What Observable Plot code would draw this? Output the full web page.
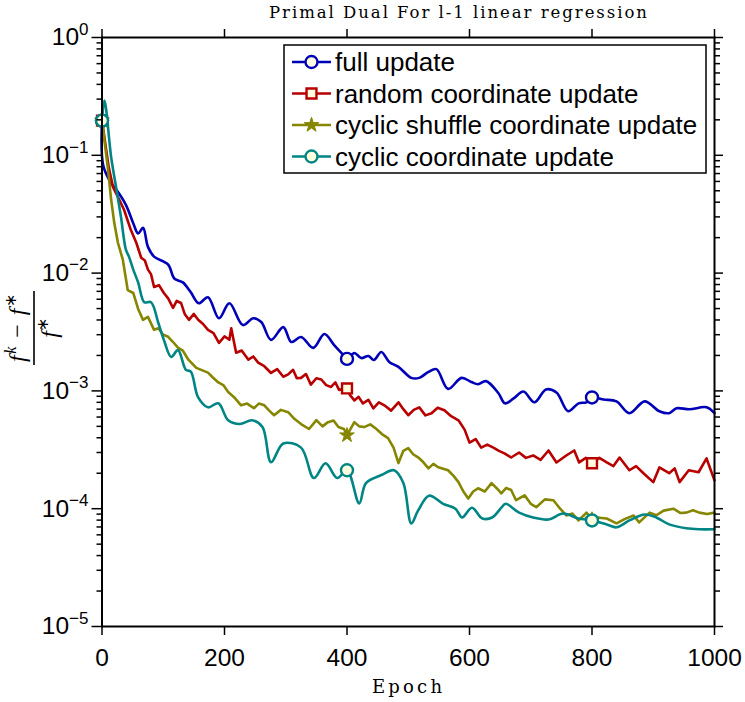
<!DOCTYPE html>
<html><head><meta charset="utf-8">
<script src="https://cdn.jsdelivr.net/npm/d3@7"></script>
<script src="https://cdn.jsdelivr.net/npm/@observablehq/plot@0.6"></script>
<style>
body{margin:0;background:#fff}
#chart{position:relative;width:745px;height:702px}
</style>
</head><body><div id="chart"></div>
<script>
// ---------- data ----------
const seriesNames = ["full update","random coordinate update","cyclic shuffle coordinate update","cyclic coordinate update"];
const xTicks = [0,200,400,600,800,1000];
const yMajor = [1e-5,1e-4,1e-3,1e-2,1e-1,1];
const yExponents = ["−5","−4","−3","−2","−1","0"];
const markerEpochs = [0,400,800];
const titleText = "Primal Dual For l-1 linear regression";
const xLabel = "Epoch";

const fullEpoch = [0,2,15,23,39,51,59,67,75,85,108,118,132,145,158,173,191,208,230,247,260,276,296,309,325,345,363,379,394,400,412,423,435,444,456,469,484,505,518,533,546,565,587,603,614,627,647,658,672,688,706,725,742,761,778,791,800,819,840,861,886,910,926,938,959,987,1000];
const fullValue = [0.197,0.082,0.058,0.0515,0.038,0.0265,0.0217,0.0242,0.0167,0.0138,0.0118,0.0090,0.00834,0.00687,0.00555,0.00624,0.00414,0.00555,0.00362,0.00414,0.00384,0.00271,0.00348,0.0026,0.00287,0.00232,0.00304,0.00245,0.00202,0.00187,0.0021,0.0019,0.00198,0.00183,0.00214,0.00176,0.0016,0.00129,0.00129,0.00145,0.00153,0.00104,0.00129,0.00119,0.00114,0.00121,0.00096,0.000784,0.000863,0.000987,0.0008,0.00103,0.000968,0.000672,0.000784,0.0008,0.00088,0.000846,0.000815,0.000647,0.000815,0.000672,0.000647,0.000712,0.000698,0.000726,0.000647];

const randomEpoch = [0,11,18,26,36,47,56,64,70,75,80,85,93,101,108,116,122,129,135,142,150,157,165,173,182,191,200,208,211,219,228,239,247,255,265,276,286,296,304,312,318,325,333,341,350,358,366,374,381,387,400,405,412,419,426,435,443,452,461,472,484,492,500,509,518,528,538,548,559,570,582,592,600,610,619,629,639,648,657,668,681,692,704,716,729,742,758,771,779,790,800,812,824,835,845,861,872,884,900,910,926,935,943,958,974,987,1000];
const randomValue = [0.197,0.079,0.0537,0.0443,0.0345,0.0233,0.0181,0.0135,0.0128,0.0107,0.0098,0.00762,0.0079,0.00678,0.0061,0.00507,0.0058,0.00558,0.0045,0.00401,0.0045,0.00401,0.0037,0.0033,0.0031,0.00256,0.0029,0.00272,0.0034,0.00211,0.0022,0.00184,0.00196,0.00174,0.00162,0.00142,0.00153,0.00132,0.00138,0.00151,0.00128,0.00129,0.00139,0.00113,0.00128,0.00125,0.00112,0.00108,0.00118,0.00102,0.00105,0.00092,0.00083,0.00089,0.000783,0.00084,0.000712,0.0008,0.000754,0.00068,0.0008,0.0007,0.000622,0.00069,0.000725,0.00062,0.000646,0.00072,0.000684,0.00061,0.000563,0.000469,0.000364,0.00039,0.00033,0.00035,0.00033,0.00031,0.000295,0.000272,0.0003,0.00027,0.000283,0.00026,0.000312,0.000247,0.000283,0.000312,0.000247,0.00027,0.000243,0.00027,0.000247,0.00023,0.000272,0.000212,0.00023,0.0002,0.000168,0.000224,0.0002,0.00022,0.000168,0.000212,0.000204,0.000267,0.000174];

const shuffleEpoch = [0,10,15,20,26,34,42,51,59,67,75,85,92,100,108,116,124,132,141,154,163,173,181,190,198,206,216,227,237,248,256,265,273,281,292,304,314,325,338,350,360,369,378,386,395,400,412,420,428,438,448,457,467,476,484,492,500,508,516,524,533,541,549,565,574,582,590,598,606,614,625,636,644,652,660,668,676,690,700,709,723,737,748,758,768,778,791,800,807,824,840,854,868,877,894,905,917,933,944,954,965,975,988,1000];
const shuffleValue = [0.197,0.0746,0.0417,0.0267,0.0181,0.013,0.00718,0.00678,0.00496,0.00401,0.00425,0.0033,0.0034,0.003,0.00288,0.0026,0.00233,0.0022,0.00184,0.00157,0.0015,0.00143,0.0013,0.00118,0.00112,0.00098,0.00088,0.000755,0.00078,0.000712,0.00078,0.000755,0.00068,0.000622,0.00069,0.000659,0.00058,0.000523,0.000475,0.000564,0.0005,0.000543,0.00056,0.000493,0.000475,0.00042,0.000543,0.0005,0.000493,0.00052,0.000475,0.00043,0.000398,0.00033,0.000244,0.00031,0.000327,0.00029,0.000273,0.00025,0.00022,0.00024,0.000225,0.000212,0.00019,0.000168,0.00014,0.000122,0.00014,0.000149,0.00014,0.000165,0.00015,0.000135,0.00015,0.000144,0.000118,0.00013,0.00011,0.000103,0.00012,0.000118,0.0001,0.0000876,0.000091,0.0000795,0.0000926,0.000081,0.0000842,0.0000826,0.000075,0.000082,0.0000876,0.0000765,0.0000926,0.000088,0.0000963,0.0001,0.000092,0.0000926,0.000097,0.0000926,0.00009,0.0000926];

const cyclicEpoch = [0,4,15,23,31,39,44,51,59,69,80,92,101,113,124,137,145,157,173,190,206,225,245,262,276,296,325,346,365,384,400,420,431,456,477,492,505,516,534,557,577,588,604,621,637,652,659,681,704,729,753,778,800,824,840,861,886,905,926,954,975,1000];
const cyclicValue = [0.197,0.292,0.0958,0.0537,0.0299,0.0158,0.0138,0.0107,0.00834,0.00566,0.00566,0.00377,0.00271,0.00194,0.00222,0.00151,0.00146,0.00088,0.000725,0.000784,0.000563,0.000523,0.000563,0.000493,0.000248,0.000358,0.00033,0.000182,0.000243,0.000182,0.000212,0.000111,0.000165,0.000193,0.000212,0.000165,0.000075,0.0000963,0.000129,0.00011,0.0001,0.0000842,0.000102,0.0000826,0.0000842,0.000102,0.00011,0.0000926,0.0000842,0.000081,0.000091,0.0000826,0.0000795,0.0000736,0.0000695,0.0000795,0.0000893,0.0000842,0.0000736,0.0000682,0.0000669,0.0000669];

// ---------- styling ----------
const colors = ["#0000b8","#b80000","#868600","#008585"];
const symbols = ["circle","square","star","circle"];
const curves = ["catmull-rom","linear","linear","catmull-rom"];
const markerFill = "#ffffe0";
const lineW = 2.6;

const series = [
  {epochs: fullEpoch, values: fullValue},
  {epochs: randomEpoch, values: randomValue},
  {epochs: shuffleEpoch, values: shuffleValue},
  {epochs: cyclicEpoch, values: cyclicValue}
].map((s, i) => ({...s, name: seriesNames[i], color: colors[i], symbol: symbols[i], curve: curves[i]}));

const yMinor = yMajor.slice(0, -1).flatMap(d => [2,3,4,5,6,7,8,9].map(k => k * d));
const markerR = sym => sym === "star" ? 4.6 : (sym === "square" ? 5.6 : 6);

const seriesMarks = series.flatMap(s => {
  const rows = s.epochs.map((e, i) => ({epoch: e, value: s.values[i]}));
  const mk = rows.filter(r => markerEpochs.includes(r.epoch));
  const isStar = s.symbol === "star";
  return [
    Plot.line(rows, {x: "epoch", y: "value", stroke: s.color, strokeWidth: lineW, curve: s.curve}),
    Plot.dot(mk, {x: "epoch", y: "value", symbol: s.symbol, r: markerR(s.symbol),
      fill: isStar ? s.color : markerFill, stroke: s.color, strokeWidth: isStar ? 1 : 2.4})
  ];
});

const tickFont = 24.5;
const chart = Plot.plot({
  width: 745,
  height: 702,
  marginLeft: 101.5,
  marginRight: 31,
  marginTop: 37,
  marginBottom: 76,
  style: {fontFamily: "'Liberation Sans', Arial, sans-serif", fontSize: tickFont + "px", color: "black", background: "white", overflow: "visible"},
  x: {domain: [0, 1000]},
  y: {type: "log", domain: [1e-5, 1]},
  marks: [
    ...seriesMarks,
    Plot.axisX({anchor: "bottom", ticks: xTicks, tickSize: 9, tickPadding: 13, label: null, strokeWidth: 1.5, fontSize: tickFont, tickFormat: d => String(d)}),
    Plot.axisX({anchor: "top", ticks: xTicks, tickSize: 9, tickFormat: () => "", label: null, strokeWidth: 1.5}),
    Plot.axisY({anchor: "left", ticks: yMajor, tickSize: 10, tickPadding: 3.5, label: null, strokeWidth: 1.5, fontSize: tickFont,
      tickFormat: d => "10^" + yExponents[yMajor.findIndex(v => Math.abs(Math.log10(v) - Math.log10(d)) < 1e-6)]}),
    Plot.axisY({anchor: "left", ticks: yMinor, tickSize: 5, tickFormat: () => "", label: null, strokeWidth: 1.5}),
    Plot.axisY({anchor: "right", ticks: yMajor, tickSize: 8, tickFormat: () => "", label: null, strokeWidth: 1.5}),
    Plot.axisY({anchor: "right", ticks: yMinor, tickSize: 5, tickFormat: () => "", label: null, strokeWidth: 1.5}),
    Plot.frame({stroke: "black", strokeWidth: 2})
  ]
});

const svg = d3.select(chart);

// superscript exponents on y tick labels
svg.selectAll('g[aria-label="y-axis tick label"] text').each(function() {
  const t = d3.select(this);
  const parts = t.text().split("^");
  if (parts.length < 2) return;
  t.text(null);
  t.append("tspan").text(parts[0]);
  t.append("tspan").attr("dy", "-0.62em").attr("font-size", "17px").text(parts[1]);
});

const serif = "'DejaVu Serif', 'Liberation Serif', serif";
// title
svg.append("text").attr("x", 458).attr("y", 18).attr("text-anchor", "middle")
  .attr("font-family", serif).attr("font-size", 16.5).attr("textLength", 378).attr("lengthAdjust", "spacing")
  .attr("fill", "black").text(titleText);
// x label
svg.append("text").attr("x", 407).attr("y", 693).attr("text-anchor", "middle")
  .attr("font-family", serif).attr("font-size", 18).attr("textLength", 70).attr("lengthAdjust", "spacing")
  .attr("fill", "black").text(xLabel);

// y label: (f^k - f^*) / f^*
const yl = svg.append("g").attr("transform", "translate(34,328) rotate(-90)")
  .attr("font-family", "'Liberation Serif', serif").attr("font-style", "italic").attr("font-size", 24).attr("fill", "black")
  .attr("text-anchor", "middle");
yl.append("line").attr("x1", -37).attr("x2", 37).attr("y1", 0).attr("y2", 0).attr("stroke", "black").attr("stroke-width", 1.6);
const num = yl.append("text").attr("x", 0).attr("y", -9).attr("textLength", 68).attr("lengthAdjust", "spacing");
num.append("tspan").text("f");
num.append("tspan").attr("dy", -9).attr("font-size", 16).text("k");
num.append("tspan").attr("dy", 9).attr("font-style", "normal").text(" − ");
num.append("tspan").text("f");
num.append("tspan").attr("dy", -9).attr("font-size", 16).attr("font-style", "normal").text("∗");
const den = yl.append("text").attr("x", 0).attr("y", 23);
den.append("tspan").text("f");
den.append("tspan").attr("dy", -9).attr("font-size", 16).attr("font-style", "normal").text("∗");

// legend (inside plot, top right)
const lg = svg.append("g").attr("text-anchor", "start");
lg.append("rect").attr("x", 284).attr("y", 45).attr("width", 422).attr("height", 128)
  .attr("fill", "white").attr("stroke", "black").attr("stroke-width", 1.5);
const rowY = [62, 93.5, 125, 156.5];
const symMap = {circle: d3.symbolCircle, square: d3.symbolSquare, star: d3.symbolStar};
series.forEach((s, i) => {
  const y = rowY[i];
  lg.append("line").attr("x1", 292).attr("x2", 331).attr("y1", y).attr("y2", y).attr("stroke", s.color).attr("stroke-width", lineW);
  const isStar = s.symbol === "star";
  const r = markerR(s.symbol);
  lg.append("path").attr("transform", `translate(311.5,${y})`)
    .attr("d", d3.symbol(symMap[s.symbol], Math.PI * r * r)())
    .attr("fill", isStar ? s.color : markerFill).attr("stroke", s.color).attr("stroke-width", isStar ? 1 : 2.4);
  lg.append("text").attr("x", 335).attr("y", y + 9).attr("text-anchor", "start")
    .attr("font-family", "'Liberation Sans', Arial, sans-serif")
    .attr("font-size", 26).attr("fill", "black").text(s.name);
});

document.getElementById("chart").appendChild(chart);
</script></body></html>
